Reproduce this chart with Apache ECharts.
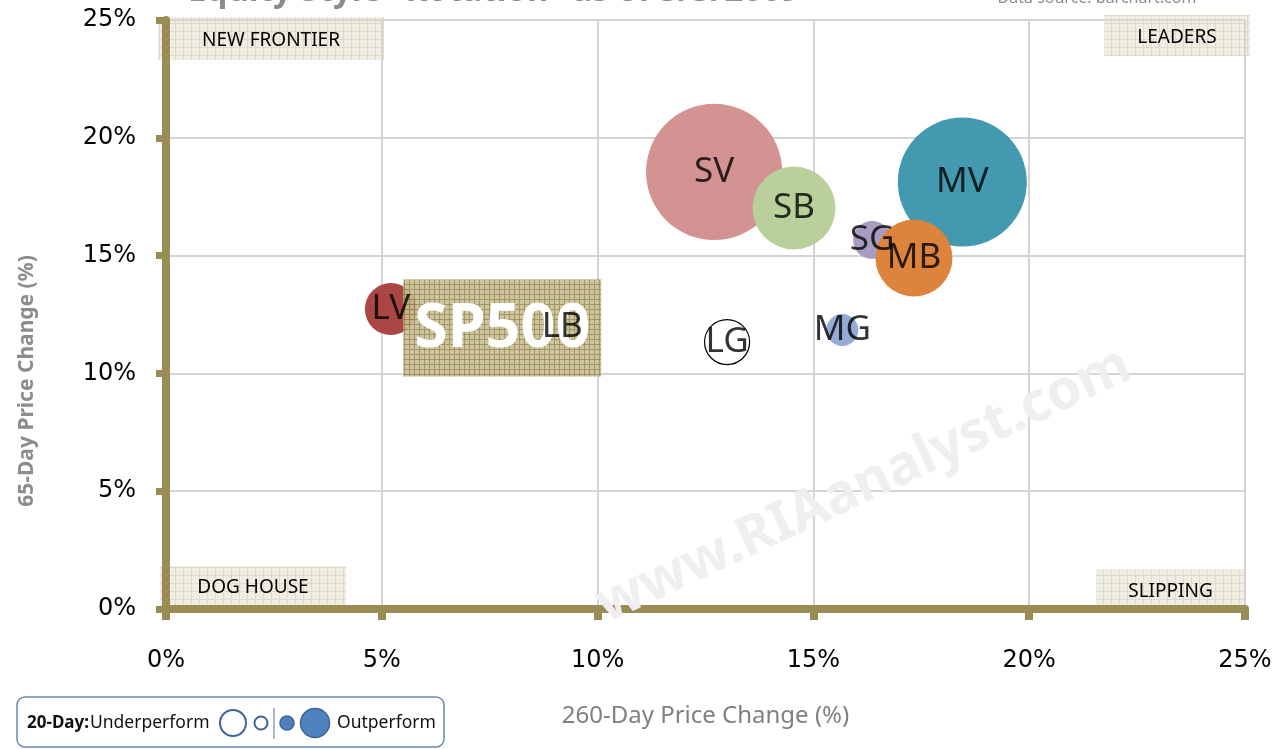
<!DOCTYPE html>
<html>
<head>
<meta charset="utf-8">
<title>Equity Style Rotation</title>
<script src="https://cdn.jsdelivr.net/npm/echarts@6.0.0/dist/echarts.min.js"></script>
<style>
    html, body { margin: 0; padding: 0; background: #fff; }
    #chart { width: 1286px; height: 749px; }
</style>
</head>
<body>
<div id="chart"></div>
<script>
// Style boxes: 260-day change (x), 65-day change (y), 20-day relative move (bubble size)
const styles = ['SV', 'SB', 'MV', 'SG', 'MB', 'MG', 'LG', 'LV', 'LB'];
const change260 = [12.70, 14.55, 18.45, 16.36, 17.33, 15.67, 13.00, 5.21, 9.18];
const change65 = [18.55, 17.02, 18.12, 15.66, 14.90, 11.84, 11.33, 12.73, 11.97];
const change20 = [11.6, 4.3, 10.4, 0.9, 3.7, 0.64, -1.27, 1.69, 0.3];

// Benchmark
const benchName = ['SP500'];
const bench260 = [7.79];
const bench65 = [11.93];

// Axis ticks (percent)
const axisTicks = [0, 5, 10, 15, 20, 25];

const OLIVE = '#9a8c55';
const colorOf = {
    SV: '#d39392', SB: '#bad09a', MV: '#4399b0', SG: '#a99cc2', MB: '#dc843e',
    MG: '#94abd6', LG: '#ffffff', LV: '#aa4643', LB: '#b9cd96'
};

// small repeating grid patterns for the label boxes
function makePattern(bg, line, step) {
    const c = document.createElement('canvas');
    c.width = step;
    c.height = step;
    const ctx = c.getContext('2d');
    ctx.fillStyle = bg;
    ctx.fillRect(0, 0, step, step);
    ctx.strokeStyle = line;
    ctx.lineWidth = 1;
    ctx.beginPath();
    ctx.moveTo(step - 0.5, 0); ctx.lineTo(step - 0.5, step);
    ctx.moveTo(0, step - 0.5); ctx.lineTo(step, step - 0.5);
    ctx.stroke();
    return c;
}
const quadPattern = { image: makePattern('#eeebdf', '#dbd6c2', 8), repeat: 'repeat' };
const benchPattern = { image: makePattern('#c9bf96', '#998b55', 5), repeat: 'repeat' };

const bubbleSize = v => 40 * Math.sqrt(Math.abs(v[2]));

const bubbleData = styles.map((name, i) => {
    const under = change20[i] < 0;
    return {
        name: name,
        value: [change260[i], change65[i], change20[i]],
        itemStyle: under
            ? { color: '#ffffff', borderColor: '#000', borderWidth: 1.2, opacity: 1 }
            : { color: colorOf[name], opacity: 1 }
    };
});

const benchData = benchName.map((name, i) => ({ name: name, value: [bench260[i], bench65[i]] }));

// benchmark box, drawn in pixels around its data point so the pattern is not stretched
function renderBench(params, api) {
    const c = api.coord([api.value(0), api.value(1)]);
    const w = 198, h = 97;
    return {
        type: 'group',
        children: [
            {
                type: 'rect',
                shape: { x: c[0] - w / 2, y: c[1] - h / 2, width: w, height: h },
                style: { fill: benchPattern, opacity: 0.9 }
            },
            {
                type: 'text', x: c[0], y: c[1] + 2,
                style: {
                    text: benchName[params.dataIndex], font: 'bold 61px "Noto Sans"',
                    fill: '#fff', align: 'center', verticalAlign: 'middle'
                }
            }
        ]
    };
}

function quadBox(x, y, w, h, text) {
    return {
        type: 'group',
        z: 10,
        children: [
            { type: 'rect', shape: { x: x, y: y, width: w, height: h }, style: { fill: quadPattern, opacity: 0.85 } },
            {
                type: 'text', x: x + w / 2, y: y + h / 2 + 2,
                style: { text: text, font: '19px "Noto Sans"', fill: '#000', align: 'center', verticalAlign: 'middle' }
            }
        ]
    };
}

const chart = echarts.init(document.getElementById('chart'));

const option = {
    backgroundColor: '#ffffff',
    animation: false,
    grid: { left: 166, right: 41, top: 20, bottom: 140, containLabel: false },
    xAxis: {
        type: 'value',
        min: axisTicks[0],
        max: axisTicks[axisTicks.length - 1],
        interval: 5,
        name: '260-Day Price Change (%)',
        nameLocation: 'middle',
        nameGap: 95,
        nameTextStyle: { color: '#808080', fontSize: 24, fontFamily: 'Noto Sans' },
        axisLine: { show: true, lineStyle: { color: OLIVE, width: 8 } },
        axisTick: { show: true, length: 11, lineStyle: { color: OLIVE, width: 8 } },
        axisLabel: { margin: 40, color: '#000', fontSize: 24, fontFamily: 'DejaVu Sans', formatter: '{value}%' },
        splitLine: { show: true, lineStyle: { color: '#d4d4d4', width: 2 } }
    },
    yAxis: {
        type: 'value',
        min: axisTicks[0],
        max: axisTicks[axisTicks.length - 1],
        interval: 5,
        axisLine: { show: true, lineStyle: { color: OLIVE, width: 8 } },
        axisTick: { show: true, length: 10, lineStyle: { color: OLIVE, width: 7 } },
        axisLabel: { margin: 30, color: '#000', fontSize: 24, fontFamily: 'DejaVu Sans', formatter: '{value}%' },
        splitLine: { show: true, lineStyle: { color: '#d4d4d4', width: 2 } }
    },
    series: [
        {
            name: 'Styles',
            type: 'scatter',
            z: 3,
            symbolSize: bubbleSize,
            data: bubbleData,
            label: { show: false }
        },
        {
            name: 'Benchmark',
            type: 'custom',
            z: 4,
            renderItem: renderBench,
            data: benchData
        },
        {
            name: 'Labels',
            type: 'scatter',
            z: 5,
            silent: true,
            symbolSize: bubbleSize,
            itemStyle: { color: 'transparent', borderWidth: 0 },
            label: {
                show: true, position: 'inside', formatter: '{b}',
                color: '#000', fontSize: 35, fontFamily: 'Noto Sans'
            },
            data: bubbleData.map(d => ({ name: d.name, value: d.value }))
        }
    ],
    graphic: [
        // title and source, cut off by the top edge as in the original
        {
            type: 'text', x: 494, y: 8, z: 10,
            style: {
                text: 'Equity Style "Rotation" as of 3/3/2009',
                font: 'bold 33px "Noto Sans"', fill: '#8c8c8c', align: 'center', verticalAlign: 'bottom'
            }
        },
        {
            type: 'text', x: 1097, y: 6, z: 10,
            style: { text: 'Data source: barchart.com', font: '16px "Noto Sans"', fill: '#8c8c8c', align: 'center', verticalAlign: 'bottom' }
        },
        // y axis title, placed lower than the axis middle as in the original
        {
            type: 'text', x: 27, y: 381, z: 10, rotation: Math.PI / 2,
            style: {
                text: '65-Day Price Change (%)', font: 'bold 21px "Noto Sans"', fill: '#8c8c8c',
                align: 'center', verticalAlign: 'middle'
            }
        },
        // watermark
        {
            type: 'text', x: 864, y: 486, z: 1, rotation: 25 * Math.PI / 180,
            style: {
                text: 'www.RIAanalyst.com', font: 'bold 55px "Noto Sans"', fill: '#efefef',
                align: 'center', verticalAlign: 'middle'
            }
        },
        quadBox(158, 17, 226, 43, 'NEW FRONTIER'),
        quadBox(1104, 15, 146, 41, 'LEADERS'),
        quadBox(160, 566, 186, 40, 'DOG HOUSE'),
        quadBox(1096, 569, 149, 42, 'SLIPPING'),
        // 20-day legend
        {
            type: 'group',
            z: 10,
            children: [
                {
                    type: 'rect', shape: { x: 17, y: 697, width: 427, height: 50, r: 8 },
                    style: { fill: '#fff', stroke: '#6b87ad', lineWidth: 1.5 }
                },
                {
                    type: 'text', x: 27, y: 723,
                    style: { text: '20-Day:', font: 'bold 17px "Noto Sans"', fill: '#111', verticalAlign: 'middle' }
                },
                {
                    type: 'text', x: 90, y: 723,
                    style: { text: 'Underperform', font: '17.5px "Noto Sans"', fill: '#111', verticalAlign: 'middle' }
                },
                { type: 'circle', shape: { cx: 233, cy: 723, r: 13 }, style: { fill: '#fff', stroke: '#3e6497', lineWidth: 2 } },
                { type: 'circle', shape: { cx: 261, cy: 723, r: 6.5 }, style: { fill: '#fff', stroke: '#3e6497', lineWidth: 2 } },
                { type: 'line', shape: { x1: 274, y1: 708, x2: 274, y2: 739 }, style: { stroke: '#6b87ad', lineWidth: 1.2 } },
                { type: 'circle', shape: { cx: 287, cy: 723, r: 7 }, style: { fill: '#4f81bd', stroke: '#3e6497', lineWidth: 1.5 } },
                { type: 'circle', shape: { cx: 315, cy: 723, r: 14.5 }, style: { fill: '#4f81bd', stroke: '#3e6497', lineWidth: 1.5 } },
                {
                    type: 'text', x: 337, y: 723,
                    style: { text: 'Outperform', font: '17.5px "Noto Sans"', fill: '#111', verticalAlign: 'middle' }
                }
            ]
        }
    ]
};

chart.setOption(option);
</script>
</body>
</html>
